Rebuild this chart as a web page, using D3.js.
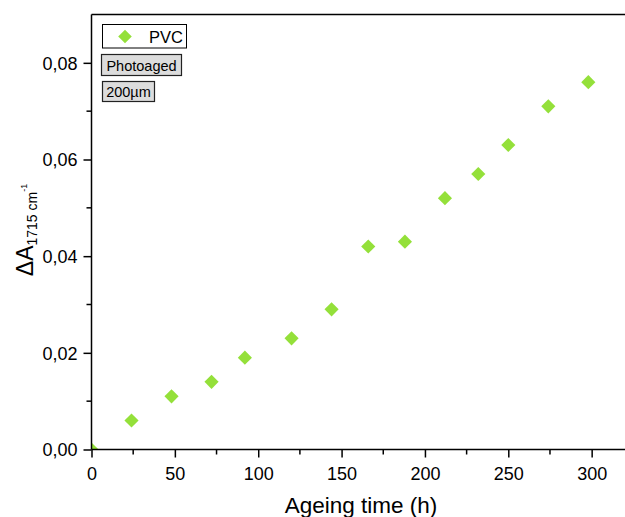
<!DOCTYPE html>
<html><head><meta charset="utf-8">
<script src="https://cdn.jsdelivr.net/npm/d3@7"></script>
<style>body{margin:0;background:#fff}svg{display:block;font-family:"Liberation Sans",Arial,sans-serif}</style>
</head><body>
<script>
const hours = [0, 24, 48, 72, 92, 120, 144, 166, 188, 212, 232, 250, 274, 298];
const deltaA = [0, 0.006, 0.011, 0.014, 0.019, 0.023, 0.029, 0.042, 0.043, 0.052, 0.057, 0.063, 0.071, 0.076];
const xTicks = [0, 50, 100, 150, 200, 250, 300];
const yTicks = [0, 0.02, 0.04, 0.06, 0.08];
const seriesName = "PVC";
const notes = ["Photoaged", "200µm"];

const W = 625, H = 517;
const m = {l: 91.5, t: 14.5, r: 0, b: 67.5};
const svg = d3.select("body").append("svg").attr("width", W).attr("height", H);
const x = d3.scaleLinear().domain([0, 320]).range([m.l, W - m.r]);
const y = d3.scaleLinear().domain([0, 0.09]).range([H - m.b, m.t]);
const green = "#94e03a";
const FONT = "Liberation Sans, Arial, sans-serif";

svg.append("clipPath").attr("id", "c").append("rect")
  .attr("x", m.l).attr("y", m.t).attr("width", W - m.l).attr("height", H - m.b - m.t);

svg.append("g").attr("clip-path", "url(#c)").selectAll("path").data(hours).join("path")
  .attr("d", d3.symbol().type(d3.symbolSquare).size(100))
  .attr("transform", (d, i) => `translate(${x(d)},${y(deltaA[i])}) rotate(45)`)
  .attr("fill", green);

// axes
const xAxis = d3.axisBottom(x).tickValues(xTicks).tickSize(8).tickPadding(0).tickFormat(d3.format("d"));
const gx = svg.append("g").attr("transform", `translate(0,${H - m.b})`).call(xAxis);
gx.select(".domain").attr("d", `M${m.l},0H${W}`);
gx.selectAll(".minor").data(d3.range(25, 320, 50)).join("line").attr("class", "minor")
  .attr("x1", d => x(d)).attr("x2", d => x(d)).attr("y1", 0).attr("y2", 5).attr("stroke", "#000").attr("stroke-width", 1.5);

const yAxis = d3.axisLeft(y).tickValues(yTicks).tickSize(8).tickPadding(6).tickFormat(d => d3.format(".2f")(d).replace(".", ","));
const gy = svg.append("g").attr("transform", `translate(${m.l},0)`).call(yAxis);
gy.select(".domain").attr("d", `M0,${H - m.b}V${m.t}`);
gy.selectAll(".minor").data([0.01, 0.03, 0.05, 0.07]).join("line").attr("class", "minor")
  .attr("y1", d => y(d)).attr("y2", d => y(d)).attr("x1", 0).attr("x2", -5).attr("stroke", "#000").attr("stroke-width", 1.5);

[gx, gy].forEach(g => {
  g.attr("font-family", FONT).attr("font-size", 18);
  g.select(".domain").attr("stroke", "#000").attr("stroke-width", 1.5);
  g.selectAll(".tick line").attr("stroke-width", 1.5);
  g.selectAll(".tick text").attr("fill", "#000");
});
gx.selectAll(".tick text").attr("dy", null).attr("y", 30.5);
gy.selectAll(".tick text").attr("dy", "0.35em");

// top frame line
svg.append("line").attr("x1", m.l).attr("x2", W).attr("y1", m.t).attr("y2", m.t).attr("stroke", "#000").attr("stroke-width", 1.5);

// axis titles
svg.append("text").attr("x", 361).attr("y", 513).attr("text-anchor", "middle")
  .attr("font-size", 22.5).text("Ageing time (h)");
const yt = svg.append("text").attr("transform", "translate(33,230) rotate(-90)").attr("text-anchor", "middle").attr("font-size", 23);
yt.append("tspan").text("ΔA");
yt.append("tspan").attr("font-size", 14).attr("dy", 4).text("1715 cm");
yt.append("tspan").attr("font-size", 9).attr("dy", -10).text("-1");

// legend
svg.append("rect").attr("x", 102.5).attr("y", 24.5).attr("width", 84).attr("height", 23.5).attr("fill", "#fff").attr("stroke", "#000").attr("stroke-width", 1);
svg.append("path").attr("d", d3.symbol().type(d3.symbolSquare).size(92))
  .attr("transform", "translate(125,36.5) rotate(45)").attr("fill", green);
svg.append("text").attr("x", 149).attr("y", 42.5).attr("font-size", 16.5).text(seriesName);

const boxes = [{x: 101.5, y: 54.5, w: 80, h: 21}, {x: 102.5, y: 81.5, w: 52, h: 20}];
notes.forEach((t, i) => {
  const b = boxes[i];
  svg.append("rect").attr("x", b.x).attr("y", b.y).attr("width", b.w).attr("height", b.h)
    .attr("fill", "#dcdcdc").attr("stroke", "#222").attr("stroke-width", 1.2);
  svg.append("text").attr("x", b.x + b.w / 2).attr("y", b.y + b.h / 2 + 5.5).attr("text-anchor", "middle")
    .attr("font-size", 14.5).text(t);
});
</script>
</body></html>
